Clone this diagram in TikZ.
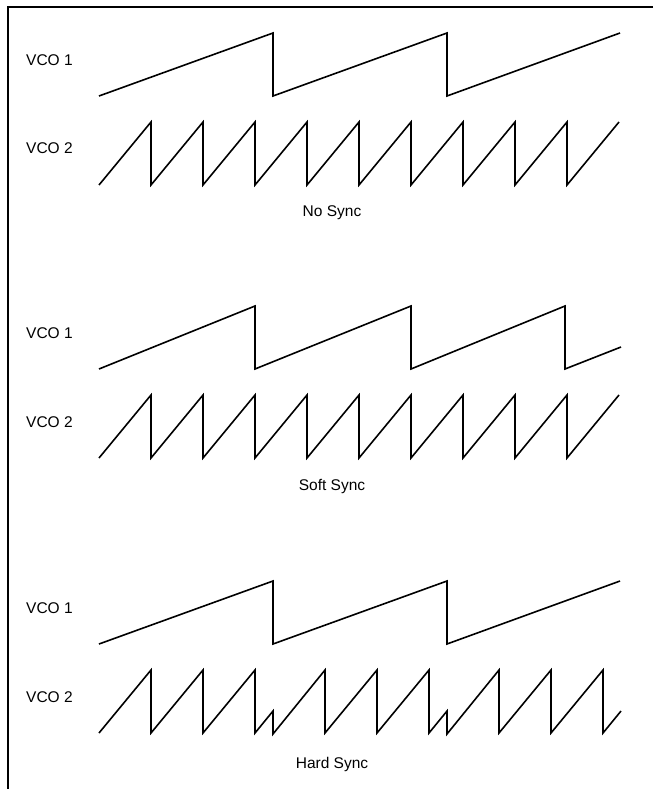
\documentclass[tikz,border=0pt]{standalone}
\usepackage{fontspec}
\setmainfont{Liberation Sans}
\begin{document}
\begin{tikzpicture}[x=1pt,y=-1pt,
  wave/.style={line width=1.6pt,line join=miter},
  frameline/.style={line width=1.6pt},
  lbl/.style={font=\fontsize{15.5}{18}\selectfont,inner sep=0pt,anchor=west},
  caption/.style={font=\fontsize{15.5}{18}\selectfont,inner sep=0pt}]
\useasboundingbox (0,0) rectangle (653,789);
% frame: top and left edges
\draw[frameline] (653,7) -- (8,7) -- (8,789);

% ---------- No Sync ----------
\node[lbl] (ns1) at (26,60) {VCO 1};
\node[lbl] (ns2) at (26,148) {VCO 2};
\draw[wave] (99,96) -- (273,33) -- (273,96) -- (447,33) -- (447,96) -- (620,33);
\draw[wave] (99,185) \foreach \k in {0,...,8} {-- ({151+52*\k},122) -- ({151+52*\k},185)} -- (619,122);
\node[caption] (nscap) at (332,213) {No Sync};

% ---------- Soft Sync ----------
\node[lbl] (ss1) at (26,333) {VCO 1};
\node[lbl] (ss2) at (26,422) {VCO 2};
\draw[wave] (99,369) -- (255,306) -- (255,369) -- (411,306) -- (411,369) -- (565,306) -- (565,369) -- (621,347);
\draw[wave] (99,458) \foreach \k in {0,...,8} {-- ({151+52*\k},395) -- ({151+52*\k},458)} -- (619,395);
\node[caption] (sscap) at (332,486) {Soft Sync};

% ---------- Hard Sync ----------
\node[lbl] (hs1) at (26,608) {VCO 1};
\node[lbl] (hs2) at (26,697) {VCO 2};
\draw[wave] (99,644) -- (273,581) -- (273,644) -- (447,581) -- (447,644) -- (620,581);
\draw[wave] (99,733) -- (151,670) -- (151,733) -- (203,670) -- (203,733) -- (255,670) -- (255,733)
  -- (273,711) -- (273,734)
  -- (325,670) -- (325,733) -- (377,670) -- (377,733) -- (429,670) -- (429,733)
  -- (447,711) -- (447,734)
  -- (499,670) -- (499,733) -- (551,670) -- (551,733) -- (603,670) -- (603,733) -- (621,711);
\node[caption] (hscap) at (332,764) {Hard Sync};
\end{tikzpicture}
\end{document}
